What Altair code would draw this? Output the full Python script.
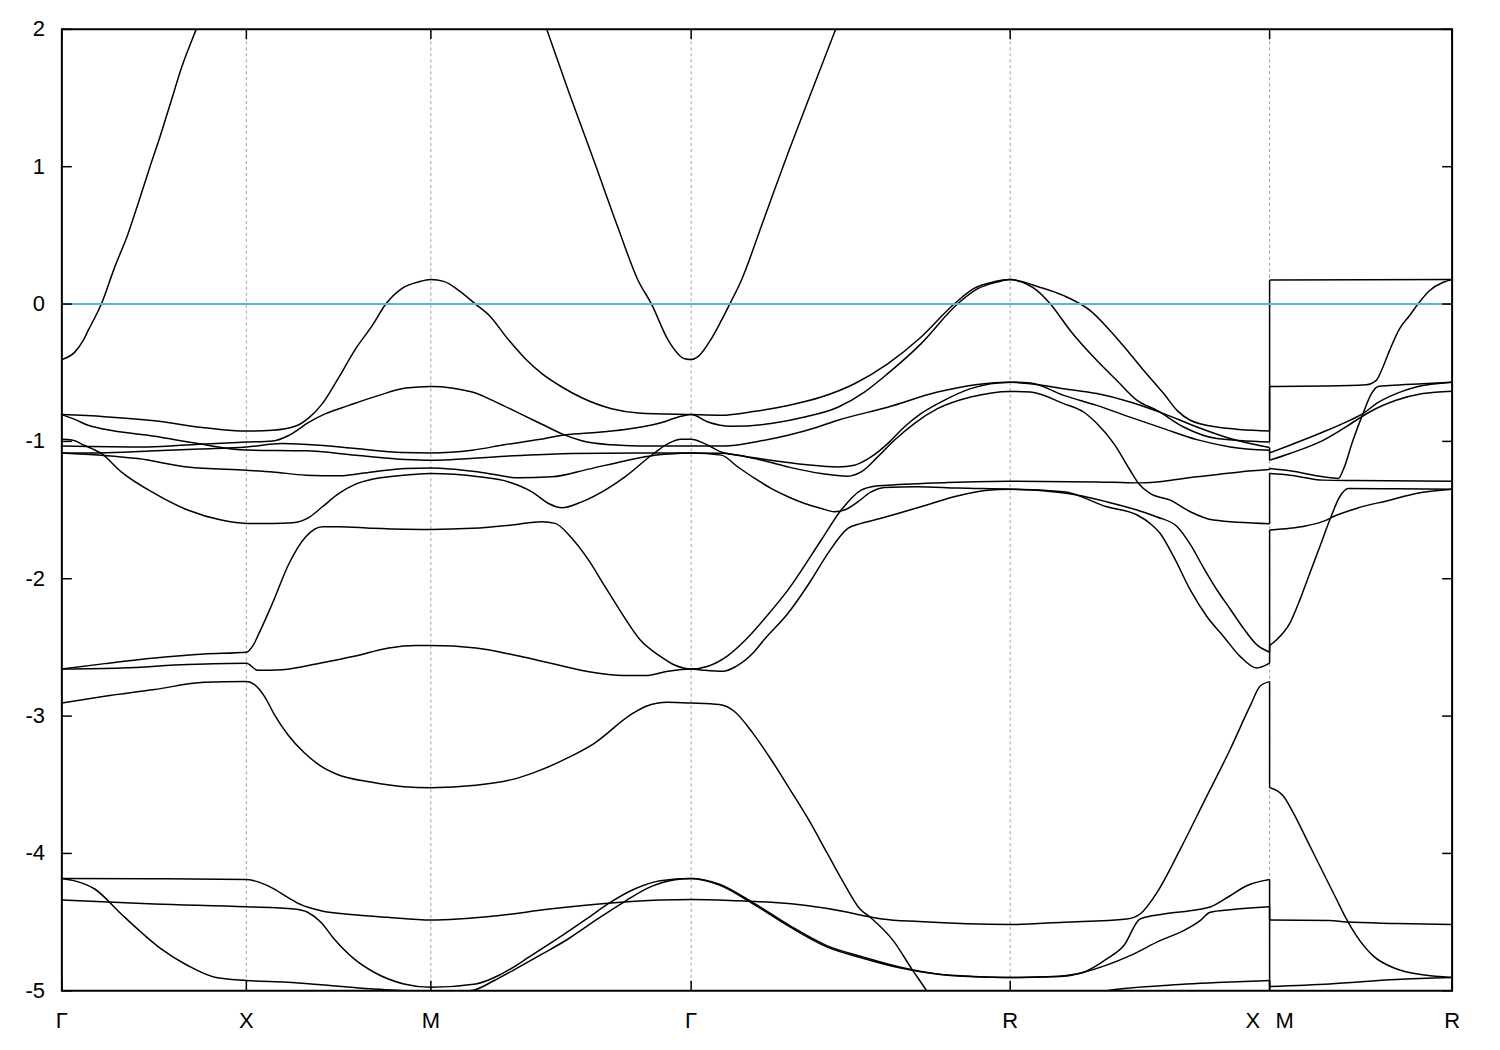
import altair as alt
import pandas as pd

# k-path positions of the high-symmetry points and labels
K_SYM = [0.0, 0.5, 1.0, 1.7054, 2.570, 3.273, 3.7676]
K_LABELS = ["Γ", "X", "M", "Γ", "R", "X\u2002\u2009M", "R"]
E_TICKS = [-5, -4, -3, -2, -1, 0, 1, 2]
E_FERMI = 0.0

# ---- bands: (k, E) knots along Γ-X-M-Γ-R-X, and the separate M-R tail ----
A_MAIN = [(0.0,-0.404),(0.035,-0.35),(0.058,-0.265),(0.071,-0.194),(0.107,0.0),(0.143,0.267),(0.179,0.509),(0.209,0.751),(0.238,0.993),(0.268,1.235),(0.296,1.477),(0.324,1.719),(0.364,2.0),(0.5,2.9),(1.0,4.5),(1.238,2.6),(1.314,2.0),(1.373,1.55),(1.441,1.05),(1.508,0.55),(1.562,0.17),(1.598,0.0),(1.643,-0.262),(1.688,-0.398),(1.7054,-0.404),(1.724,-0.383),(1.760,-0.253),(1.787,-0.121),(1.810,0.0),(1.841,0.17),(1.900,0.6),(1.968,1.1),(2.035,1.57),(2.097,2.0),(2.184,2.6),(2.570,4.5)]

B_MAIN = [(0.0,-0.805),(0.116,-0.82),(0.251,-0.85),(0.386,-0.90),(0.5,-0.925),(0.571,-0.919),(0.634,-0.888),(0.670,-0.827),(0.706,-0.725),(0.751,-0.532),(0.796,-0.326),(0.841,-0.157),(0.878,0.0),(0.922,0.114),(0.968,0.162),(1.0,0.178),(1.035,0.165),(1.076,0.098),(1.121,0.0),(1.157,-0.080),(1.211,-0.262),(1.256,-0.398),(1.301,-0.507),(1.355,-0.604),(1.409,-0.682),(1.490,-0.762),(1.562,-0.793),(1.7054,-0.805),(1.787,-0.810),(1.878,-0.781),(1.968,-0.738),(2.058,-0.677),(2.148,-0.580),(2.238,-0.435),(2.328,-0.242),(2.418,0.0),(2.472,0.114),(2.526,0.162),(2.570,0.178),(2.652,0.121),(2.715,0.061),(2.787,-0.048),(2.841,-0.194),(2.895,-0.363),(2.932,-0.484),(2.986,-0.652),(3.022,-0.774),(3.058,-0.846),(3.130,-0.895),(3.273,-0.925)]
B_TAIL = [(3.273,0.175),(3.7676,0.178)]

C_MAIN = [(0.0,-1.033),(0.232,-1.04),(0.373,-1.02),(0.5,-1.005),(0.571,-0.997),(0.616,-0.955),(0.670,-0.859),(0.715,-0.798),(0.778,-0.738),(0.859,-0.665),(0.932,-0.612),(1.0,-0.60),(1.112,-0.641),(1.175,-0.712),(1.247,-0.805),(1.301,-0.875),(1.355,-0.945),(1.409,-0.995),(1.490,-1.025),(1.562,-1.033),(1.7054,-1.033),(1.796,-1.033),(1.886,-1.0),(1.968,-0.955),(2.049,-0.895),(2.103,-0.846),(2.238,-0.751),(2.373,-0.641),(2.481,-0.585),(2.570,-0.569),(2.625,-0.580),(2.715,-0.616),(2.805,-0.652),(2.895,-0.713),(2.986,-0.798),(3.076,-0.895),(3.166,-0.979),(3.273,-1.045)]
C_TAIL = [(3.273,-1.084),(3.328,-1.028),(3.418,-0.932),(3.490,-0.847),(3.526,-0.798),(3.562,-0.725),(3.616,-0.652),(3.670,-0.604),(3.7676,-0.569)]

D_MAIN = [(0.0,-0.805),(0.035,-0.84),(0.071,-0.883),(0.116,-0.912),(0.251,-0.963),(0.368,-1.016),(0.5,-1.063),(0.661,-1.069),(0.796,-1.101),(0.932,-1.132),(1.0,-1.137),(1.202,-1.108),(1.382,-1.088),(1.562,-1.084),(1.7054,-1.084),(1.787,-1.087),(1.878,-1.125),(1.968,-1.186),(2.058,-1.234),(2.130,-1.253),(2.166,-1.222),(2.211,-1.113),(2.256,-0.992),(2.310,-0.870),(2.373,-0.762),(2.463,-0.677),(2.570,-0.636),(2.625,-0.641),(2.715,-0.725),(2.769,-0.786),(2.805,-0.870),(2.851,-1.016),(2.895,-1.210),(2.918,-1.306),(2.949,-1.379),(3.004,-1.428),(3.058,-1.512),(3.121,-1.573),(3.273,-1.6)]
D_TAIL = [(3.273,-1.234),(3.328,-1.246),(3.418,-1.282),(3.508,-1.285),(3.7676,-1.29)]

E_MAIN = [(0.0,-1.084),(0.103,-1.084),(0.238,-1.07),(0.373,-1.055),(0.5,-1.04),(0.597,-1.016),(0.697,-1.028),(0.796,-1.052),(0.922,-1.081),(1.0,-1.084),(1.112,-1.064),(1.202,-1.023),(1.292,-0.987),(1.355,-0.955),(1.427,-0.939),(1.526,-0.914),(1.616,-0.870),(1.679,-0.817),(1.7054,-0.805),(1.751,-0.859),(1.814,-0.890),(1.922,-0.870),(2.013,-0.823),(2.103,-0.751),(2.175,-0.641),(2.238,-0.507),(2.328,-0.290),(2.427,0.0),(2.481,0.11),(2.535,0.16),(2.570,0.178),(2.589,0.17),(2.643,0.098),(2.679,0.0),(2.733,-0.194),(2.805,-0.411),(2.859,-0.556),(2.914,-0.701),(2.968,-0.774),(3.040,-0.895),(3.130,-0.979),(3.273,-1.004)]
E_TAIL = [(3.273,-0.60),(3.427,-0.597),(3.535,-0.588),(3.562,-0.556),(3.580,-0.460),(3.598,-0.339),(3.625,-0.181),(3.652,-0.085),(3.675,0.0),(3.706,0.097),(3.742,0.157),(3.7676,0.178)]

F_MAIN = [(0.0,-1.084),(0.107,-1.101),(0.206,-1.125),(0.341,-1.186),(0.5,-1.21),(0.571,-1.222),(0.661,-1.246),(0.751,-1.251),(0.841,-1.222),(0.932,-1.197),(1.0,-1.193),(1.130,-1.222),(1.238,-1.265),(1.328,-1.258),(1.427,-1.202),(1.526,-1.142),(1.607,-1.101),(1.670,-1.088),(1.7054,-1.084),(1.787,-1.10),(1.832,-1.186),(1.878,-1.27),(1.922,-1.342),(1.968,-1.403),(2.013,-1.452),(2.058,-1.488),(2.094,-1.512),(2.121,-1.50),(2.157,-1.44),(2.192,-1.37),(2.229,-1.335),(2.319,-1.33),(2.427,-1.34),(2.570,-1.348),(2.643,-1.355),(2.751,-1.39),(2.832,-1.44),(2.914,-1.50),(2.968,-1.55),(3.022,-1.62),(3.058,-1.75),(3.094,-1.92),(3.130,-2.08),(3.166,-2.22),(3.202,-2.36),(3.238,-2.48),(3.273,-2.535)]
F_TAIL = [(3.273,-1.645),(3.328,-1.633),(3.373,-1.614),(3.427,-1.573),(3.445,-1.549),(3.508,-1.488),(3.598,-1.428),(3.670,-1.379),(3.7676,-1.348)]

G_MAIN = [(0.0,-0.985),(0.027,-0.99),(0.062,-1.03),(0.107,-1.088),(0.161,-1.222),(0.251,-1.379),(0.341,-1.50),(0.432,-1.573),(0.5,-1.597),(0.571,-1.597),(0.625,-1.592),(0.670,-1.553),(0.706,-1.476),(0.751,-1.379),(0.796,-1.311),(0.841,-1.275),(0.886,-1.258),(0.949,-1.241),(1.0,-1.234),(1.130,-1.258),(1.211,-1.295),(1.274,-1.367),(1.319,-1.452),(1.355,-1.483),(1.409,-1.440),(1.481,-1.34),(1.526,-1.258),(1.598,-1.101),(1.643,-1.016),(1.679,-0.985),(1.7054,-0.985),(1.742,-1.016),(1.787,-1.077),(1.832,-1.101),(1.922,-1.137),(2.013,-1.168),(2.103,-1.186),(2.148,-1.173),(2.193,-1.113),(2.238,-1.016),(2.283,-0.895),(2.328,-0.798),(2.391,-0.701),(2.463,-0.616),(2.570,-0.569),(2.625,-0.575),(2.715,-0.665),(2.805,-0.738),(2.895,-0.823),(2.986,-0.907),(3.076,-0.987),(3.166,-1.040),(3.273,-1.065)]
G_TAIL = [(3.273,-1.137),(3.328,-1.088),(3.418,-0.992),(3.508,-0.846),(3.544,-0.786),(3.616,-0.701),(3.688,-0.652),(3.7676,-0.634)]

H_MAIN = [(0.0,-2.657),(0.116,-2.618),(0.251,-2.577),(0.386,-2.548),(0.5,-2.535),(0.517,-2.491),(0.535,-2.394),(0.571,-2.177),(0.616,-1.887),(0.661,-1.694),(0.706,-1.621),(0.751,-1.621),(0.841,-1.633),(0.932,-1.640),(1.0,-1.641),(1.112,-1.633),(1.220,-1.609),(1.301,-1.585),(1.337,-1.597),(1.382,-1.706),(1.427,-1.863),(1.472,-2.057),(1.517,-2.25),(1.567,-2.444),(1.622,-2.565),(1.662,-2.63),(1.7054,-2.657),(1.751,-2.637),(1.805,-2.56),(1.851,-2.45),(1.914,-2.26),(1.968,-2.081),(2.058,-1.718),(2.112,-1.50),(2.166,-1.355),(2.202,-1.326),(2.238,-1.319),(2.400,-1.30),(2.570,-1.29),(2.805,-1.295),(2.914,-1.302),(2.968,-1.295),(3.076,-1.258),(3.193,-1.222),(3.273,-1.205)]
H_TAIL = [(3.273,-1.197),(3.328,-1.214),(3.418,-1.258),(3.459,-1.270),(3.472,-1.210),(3.499,-0.992),(3.526,-0.798),(3.549,-0.652),(3.567,-0.60),(3.598,-0.593),(3.688,-0.58),(3.7676,-0.569)]

I_MAIN = [(0.0,-2.657),(0.161,-2.650),(0.341,-2.625),(0.5,-2.615),(0.531,-2.667),(0.598,-2.662),(0.702,-2.613),(0.792,-2.565),(0.886,-2.504),(0.959,-2.486),(1.0,-2.486),(1.122,-2.504),(1.222,-2.553),(1.322,-2.613),(1.422,-2.674),(1.522,-2.705),(1.582,-2.705),(1.642,-2.674),(1.7054,-2.657),(1.742,-2.667),(1.792,-2.674),(1.827,-2.638),(1.873,-2.541),(1.903,-2.444),(1.968,-2.251),(2.031,-2.009),(2.076,-1.815),(2.130,-1.633),(2.166,-1.597),(2.220,-1.56),(2.328,-1.476),(2.418,-1.403),(2.508,-1.355),(2.570,-1.348),(2.715,-1.367),(2.832,-1.476),(2.914,-1.536),(2.949,-1.597),(2.976,-1.669),(3.013,-1.839),(3.058,-2.081),(3.103,-2.275),(3.148,-2.42),(3.193,-2.565),(3.238,-2.650),(3.273,-2.615)]
I_TAIL = [(3.273,-2.486),(3.292,-2.444),(3.328,-2.323),(3.355,-2.154),(3.382,-1.96),(3.409,-1.767),(3.436,-1.573),(3.463,-1.403),(3.486,-1.343),(3.616,-1.345),(3.7676,-1.348)]

J_MAIN = [(0.0,-2.904),(0.116,-2.856),(0.251,-2.807),(0.386,-2.754),(0.5,-2.749),(0.522,-2.771),(0.549,-2.856),(0.576,-2.989),(0.612,-3.134),(0.657,-3.267),(0.702,-3.364),(0.747,-3.425),(0.837,-3.480),(0.927,-3.514),(1.0,-3.521),(1.122,-3.504),(1.222,-3.461),(1.281,-3.41),(1.372,-3.303),(1.442,-3.2),(1.542,-2.99),(1.582,-2.93),(1.642,-2.90),(1.7054,-2.905),(1.782,-2.916),(1.822,-2.965),(1.872,-3.122),(1.922,-3.316),(1.973,-3.533),(2.023,-3.751),(2.073,-3.993),(2.123,-4.235),(2.163,-4.405),(2.193,-4.47),(2.253,-4.635),(2.303,-4.84),(2.343,-4.998),(2.45,-5.5),(2.570,-5.6),(2.76,-5.25),(2.832,-5.0),(2.986,-4.962),(3.130,-4.94),(3.273,-4.925)]
J_TAIL = [(3.273,-5.02),(3.7676,-5.4)]

K_MAIN = [(0.0,-4.182),(0.238,-4.184),(0.5,-4.19),(0.522,-4.2),(0.567,-4.247),(0.612,-4.320),(0.648,-4.373),(0.702,-4.417),(0.792,-4.446),(0.882,-4.465),(1.0,-4.485),(1.172,-4.456),(1.322,-4.405),(1.472,-4.364),(1.622,-4.339),(1.7054,-4.335),(1.832,-4.345),(1.922,-4.356),(2.023,-4.381),(2.123,-4.424),(2.173,-4.453),(2.223,-4.477),(2.323,-4.496),(2.570,-4.518),(2.715,-4.501),(2.886,-4.477),(2.922,-4.441),(2.968,-4.284),(3.031,-3.969),(3.094,-3.630),(3.166,-3.243),(3.220,-2.928),(3.247,-2.783),(3.273,-2.749)]
K_TAIL = [(3.273,-3.521),(3.310,-3.582),(3.337,-3.703),(3.373,-3.896),(3.418,-4.139),(3.454,-4.332),(3.481,-4.477),(3.508,-4.598),(3.553,-4.744),(3.616,-4.840),(3.688,-4.884),(3.7676,-4.903)]

L_MAIN = [(0.0,-4.339),(0.251,-4.368),(0.5,-4.388),(0.630,-4.404),(0.666,-4.428),(0.702,-4.501),(0.738,-4.623),(0.792,-4.768),(0.846,-4.865),(0.927,-4.950),(1.0,-4.974),(1.122,-4.950),(1.192,-4.877),(1.272,-4.744),(1.342,-4.623),(1.422,-4.477),(1.482,-4.364),(1.552,-4.259),(1.622,-4.199),(1.7054,-4.182),(1.782,-4.224),(1.872,-4.356),(1.973,-4.526),(2.073,-4.671),(2.173,-4.755),(2.273,-4.828),(2.373,-4.877),(2.473,-4.896),(2.570,-4.903),(2.643,-4.90),(2.715,-4.89),(2.769,-4.865),(2.832,-4.768),(2.878,-4.671),(2.922,-4.477),(2.986,-4.441),(3.076,-4.410),(3.112,-4.39),(3.166,-4.308),(3.211,-4.235),(3.273,-4.19)]
L_TAIL = [(3.273,-4.485),(3.436,-4.488),(3.481,-4.50),(3.616,-4.51),(3.7676,-4.518)]

M_MAIN = [(0.0,-4.182),(0.035,-4.2),(0.089,-4.259),(0.161,-4.441),(0.215,-4.574),(0.269,-4.695),(0.341,-4.816),(0.414,-4.901),(0.5,-4.925),(0.611,-4.938),(0.702,-4.956),(0.837,-4.986),(0.927,-5.0),(1.0,-5.02),(1.049,-5.01),(1.112,-4.998),(1.172,-4.925),(1.222,-4.853),(1.302,-4.732),(1.372,-4.623),(1.452,-4.477),(1.522,-4.356),(1.592,-4.247),(1.662,-4.192),(1.7054,-4.182),(1.782,-4.23),(1.872,-4.365),(1.973,-4.535),(2.073,-4.68),(2.173,-4.765),(2.273,-4.835),(2.373,-4.88),(2.473,-4.898),(2.570,-4.903),(2.643,-4.90),(2.715,-4.895),(2.769,-4.865),(2.895,-4.744),(2.976,-4.635),(3.040,-4.562),(3.085,-4.489),(3.112,-4.428),(3.166,-4.410),(3.273,-4.388)]
M_TAIL = [(3.273,-4.969),(3.436,-4.950),(3.616,-4.918),(3.7676,-4.903)]

BANDS = [
    ("b01", A_MAIN, None), ("b02", B_MAIN, B_TAIL), ("b03", E_MAIN, E_TAIL),
    ("b04", C_MAIN, C_TAIL), ("b05", G_MAIN, G_TAIL), ("b06", H_MAIN, H_TAIL),
    ("b07", D_MAIN, D_TAIL), ("b08", F_MAIN, F_TAIL), ("b09", I_MAIN, I_TAIL),
    ("b10", K_MAIN, K_TAIL), ("b11", L_MAIN, L_TAIL), ("b12", M_MAIN, M_TAIL),
    ("b13", J_MAIN, J_TAIL),
]

rows, jumps = [], []
for name, main, tail in BANDS:
    for i, (k, e) in enumerate(main):
        rows.append({"piece": name + "a", "i": i, "k": k, "E": e})
    if tail:
        for i, (k, e) in enumerate(tail):
            rows.append({"piece": name + "b", "i": i, "k": k, "E": e})
        jumps.append({"k": K_SYM[5], "E": main[-1][1], "E2": tail[0][1]})

bands_df = pd.DataFrame(rows)
jumps_df = pd.DataFrame(jumps)
ksym_df = pd.DataFrame({"k": K_SYM, "label": K_LABELS})
kin_df = pd.DataFrame({"k": K_SYM[1:-1]})
etick_df = pd.DataFrame({"E": E_TICKS, "label": [str(v) for v in E_TICKS]})
fermi_df = pd.DataFrame({"E": [E_FERMI]})

W, H = 1394, 964
FONT = "Liberation Sans"
FS = 22
TICK = 10

xs = alt.Scale(domain=[K_SYM[0], K_SYM[-1]], nice=False, zero=False)
ys = alt.Scale(domain=[-5, 2], nice=False, zero=False)

grid = alt.Chart(kin_df).mark_rule(color="#a0a0a0", strokeWidth=1, strokeDash=[3, 3]).encode(
    x=alt.X("k:Q", scale=xs, axis=None))

lines = alt.Chart(bands_df).mark_line(color="black", strokeWidth=1.5, interpolate="monotone",
                                      clip=True).encode(
    x=alt.X("k:Q", scale=xs, axis=None),
    y=alt.Y("E:Q", scale=ys, axis=None),
    detail="piece:N",
    order="i:Q",
)

jump = alt.Chart(jumps_df).mark_rule(color="black", strokeWidth=1.5, clip=True).encode(
    x=alt.X("k:Q", scale=xs, axis=None),
    y=alt.Y("E:Q", scale=ys, axis=None),
    y2="E2:Q",
)

fermi = alt.Chart(fermi_df).mark_rule(color="#56b4e9", strokeWidth=2).encode(
    y=alt.Y("E:Q", scale=ys, axis=None))

ytl = alt.Chart(etick_df).mark_rule(color="black", strokeWidth=1.5).encode(
    y=alt.Y("E:Q", scale=ys, axis=None), x=alt.value(0), x2=alt.value(TICK))
ytr = alt.Chart(etick_df).mark_rule(color="black", strokeWidth=1.5).encode(
    y=alt.Y("E:Q", scale=ys, axis=None), x=alt.value(W - TICK), x2=alt.value(W))
xtb = alt.Chart(ksym_df).mark_rule(color="black", strokeWidth=1.5).encode(
    x=alt.X("k:Q", scale=xs, axis=None), y=alt.value(H), y2=alt.value(H - TICK))
xtt = alt.Chart(ksym_df).mark_rule(color="black", strokeWidth=1.5).encode(
    x=alt.X("k:Q", scale=xs, axis=None), y=alt.value(0), y2=alt.value(TICK))

ylab = alt.Chart(etick_df).mark_text(font=FONT, fontSize=FS, color="black", align="right",
                                     baseline="middle").encode(
    y=alt.Y("E:Q", scale=ys, axis=None), x=alt.value(-17), text="label:N")
xlab = alt.Chart(ksym_df).mark_text(font=FONT, fontSize=FS, color="black", align="center",
                                    baseline="alphabetic").encode(
    x=alt.X("k:Q", scale=xs, axis=None), y=alt.value(H + 37), text="label:N")

chart = alt.layer(grid, lines, jump, fermi, ytl, ytr, xtb, xtt, ylab, xlab).properties(
    width=W, height=H,
    background="white",
    autosize=alt.AutoSizeParams(type="none"),
    padding={"left": 54, "top": 20, "right": 40, "bottom": 70},
).configure_view(stroke="black", strokeWidth=2)

chart.save("out.html", embed_options={"renderer": "svg", "actions": False})
